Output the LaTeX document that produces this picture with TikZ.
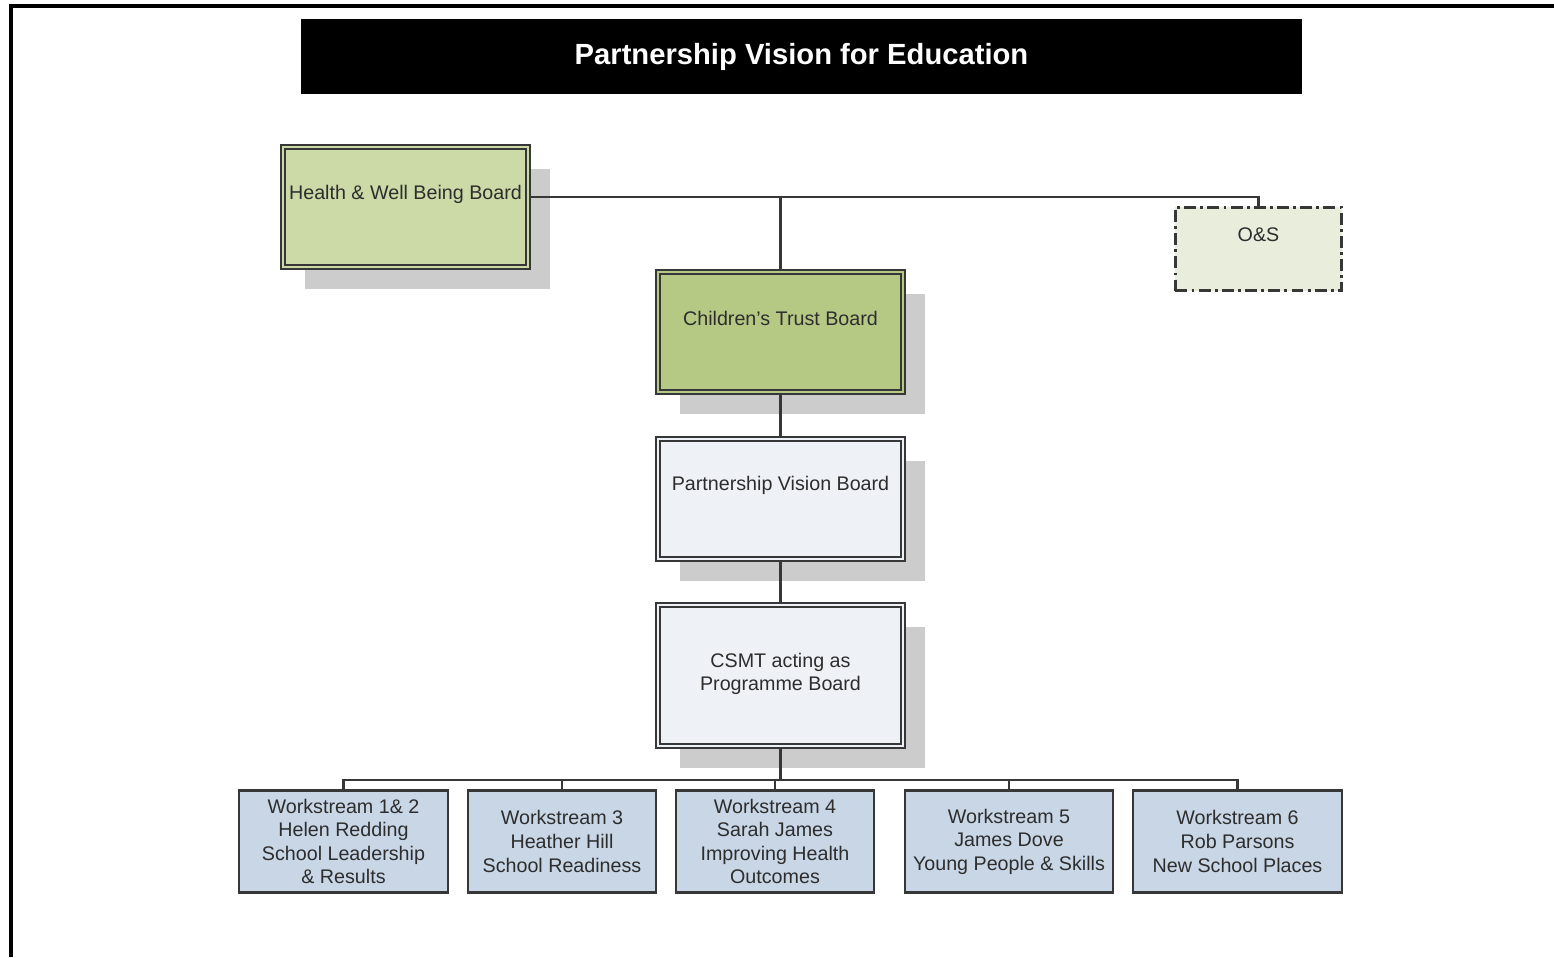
\documentclass[tikz,border=0pt]{standalone}
\usepackage{fontspec}
\setmainfont{Liberation Sans}
\usetikzlibrary{shadows}
\definecolor{healthgreen}{RGB}{203,218,167}
\definecolor{trustgreen}{RGB}{181,201,133}
\definecolor{boardgrey}{RGB}{238,241,246}
\definecolor{osgreen}{RGB}{233,237,220}
\definecolor{wsblue}{RGB}{201,214,230}
\definecolor{shadowgrey}{RGB}{204,204,204}
\definecolor{lineg}{RGB}{55,55,55}
\definecolor{textg}{RGB}{45,45,45}

\begin{document}
\begin{tikzpicture}[x=0.01cm,y=-0.01cm,
    board/.style={rectangle, draw=lineg, line width=0.55pt, double distance=0.55pt,
        minimum width=2.45cm, minimum height=1.2cm, inner sep=0pt,
        drop shadow={shadow xshift=0.22cm, shadow yshift=-0.22cm, fill=shadowgrey, opacity=1}},
    boardtext/.style={text=textg, font=\fontsize{5.6}{6.7}\selectfont, inner sep=0pt},
    wsbox/.style={rectangle, draw=lineg, line width=0.6pt, fill=wsblue, minimum height=1.02cm,
        text=textg, font=\fontsize{5.6}{6.7}\selectfont, align=center, inner sep=0pt},
    link/.style={draw=lineg, line width=0.7pt}]

    \useasboundingbox (0,0) rectangle (1554,957);

    % Frame
    \draw[line width=0.9pt] (11,957) -- (11,6) -- (1554,6);

    % Title bar
    \node[fill=black, minimum width=10.01cm, minimum height=0.75cm, text=white,
        font=\fontsize{8.3}{10}\selectfont\bfseries] (title) at (801.5,56.5)
        {Partnership Vision for Education};

    % Boards
    \node[board, fill=healthgreen, double=healthgreen] (hwb) at (405.5,207) {};
    \node[boardtext] (hwbtext) at (405.5,194) {Health \& Well Being Board};

    \node[board, fill=trustgreen, double=trustgreen] (ctb) at (780.5,332) {};
    \node[boardtext] (ctbtext) at (780.5,318) {Children’s Trust Board};

    \node[board, fill=boardgrey, double=boardgrey] (pvb) at (780.5,499) {};
    \node[boardtext] (pvbtext) at (780.5,485) {Partnership Vision Board};

    \node[board, fill=boardgrey, double=boardgrey, minimum height=1.41cm] (csmt) at (780.5,675.5) {};
    \node[boardtext, align=center] (csmttext) at (780.5,674) {CSMT acting as\\Programme Board};

    % O&S
    \node[rectangle, draw=lineg, line width=0.65pt, dash pattern=on 3.4pt off 1.2pt on 0.8pt off 1.2pt,
        fill=osgreen, minimum width=1.66cm, minimum height=0.83cm] (os) at (1258.5,249) {};
    \node[boardtext] (ostext) at (1258.5,235) {O\&S};

    % Workstreams
    \node[wsbox, minimum width=2.09cm] (ws1) at (343.5,841.5)
        {Workstream 1\& 2\\Helen Redding\\School Leadership\\\& Results};
    \node[wsbox, minimum width=1.88cm] (ws2) at (562,841.5)
        {Workstream 3\\Heather Hill\\School Readiness};
    \node[wsbox, minimum width=1.98cm] (ws3) at (775,841.5)
        {Workstream 4\\Sarah James\\Improving Health\\Outcomes};
    \node[wsbox, minimum width=2.08cm] (ws4) at (1009,841.5)
        {Workstream 5\\James Dove\\Young People \& Skills};
    \node[wsbox, minimum width=2.09cm] (ws5) at (1237.5,841.5)
        {Workstream 6\\Rob Parsons\\New School Places};

    % Connectors
    \coordinate (top) at (780.5,197);
    \coordinate (bus) at (780.5,780);
    \draw[link] (hwb.east |- top) -- (top) -| (os.north);
    \draw[link] (top) -- (ctb.north);
    \draw[link] (ctb.south) -- (pvb.north);
    \draw[link] (pvb.south) -- (csmt.north);
    \draw[link] (csmt.south) -- (bus);
    \draw[link] (ws1.north) |- (bus) -| (ws5.north);
    \draw[link] (ws2.north) -- (ws2.north |- bus);
    \draw[link] (ws3.north) -- (ws3.north |- bus);
    \draw[link] (ws4.north) -- (ws4.north |- bus);
\end{tikzpicture}
\end{document}
